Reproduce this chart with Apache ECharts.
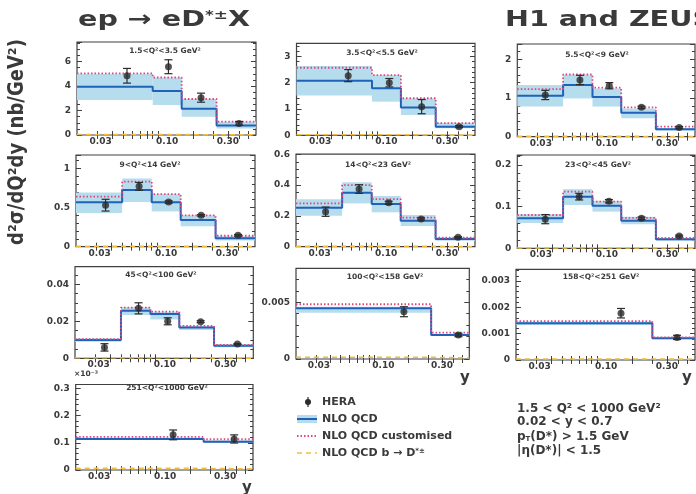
<!DOCTYPE html>
<html>
<head>
<meta charset="utf-8">
<title>ep → eD*±X</title>
<script src="https://cdn.jsdelivr.net/npm/echarts@6.0.0/dist/echarts.min.js"></script>
<style>
  html, body { margin: 0; padding: 0; background: #fff; }
  #chart { width: 696px; height: 494px; }
</style>
</head>
<body>
<div id="chart"></div>
<script>
// one panel per Q2 bin
const q2Bins = [
  '1.5<Q²<3.5 GeV²', '3.5<Q²<5.5 GeV²', '5.5<Q²<9 GeV²',
  '9<Q²<14 GeV²', '14<Q²<23 GeV²', '23<Q²<45 GeV²',
  '45<Q²<100 GeV²', '100<Q²<158 GeV²', '158<Q²<251 GeV²',
  '251<Q²<1000 GeV²'
]

// y bin edges of each panel
const yEdges = [
  [0.02, 0.09, 0.16, 0.32, 0.7],
  [0.02, 0.09, 0.16, 0.32, 0.7],
  [0.02, 0.05, 0.09, 0.16, 0.32, 0.7],
  [0.02, 0.05, 0.09, 0.16, 0.32, 0.7],
  [0.02, 0.05, 0.09, 0.16, 0.32, 0.7],
  [0.02, 0.05, 0.09, 0.16, 0.32, 0.7],
  [0.02, 0.05, 0.09, 0.16, 0.32, 0.7],
  [0.02, 0.32, 0.7],
  [0.02, 0.30, 0.7],
  [0.02, 0.26, 0.7]
]

// NLO QCD (last panel in units of 1e-3 nb/GeV2)
const nloQcd = [
  [3.95, 3.6, 2.15, 0.77],
  [2.08, 1.79, 1.06, 0.33],
  [1.06, 1.34, 1.03, 0.62, 0.19],
  [0.566, 0.723, 0.566, 0.34, 0.107],
  [0.253, 0.35, 0.277, 0.169, 0.05],
  [0.072, 0.124, 0.102, 0.066, 0.0216],
  [0.0099, 0.0257, 0.024, 0.0166, 0.0068],
  [0.00447, 0.00212],
  [0.0014, 0.00083],
  [0.114, 0.104]
]
const nloLow = [
  [2.86, 2.45, 1.5, 0.54],
  [1.51, 1.28, 0.77, 0.27],
  [0.78, 0.99, 0.78, 0.48, 0.16],
  [0.43, 0.57, 0.45, 0.26, 0.08],
  [0.2, 0.281, 0.223, 0.134, 0.039],
  [0.061, 0.104, 0.088, 0.058, 0.018],
  [0.009, 0.0234, 0.021, 0.0153, 0.006],
  [0.00409, 0.00202],
  [0.00133, 0.00079],
  [0.110, 0.100]
]
const nloHigh = [
  [5.0, 4.7, 2.94, 1.09],
  [2.64, 2.29, 1.41, 0.48],
  [1.34, 1.61, 1.25, 0.73, 0.22],
  [0.69, 0.87, 0.67, 0.40, 0.14],
  [0.307, 0.418, 0.329, 0.206, 0.061],
  [0.082, 0.142, 0.114, 0.076, 0.025],
  [0.0108, 0.0276, 0.0252, 0.0176, 0.0076],
  [0.00461, 0.00222],
  [0.00146, 0.00088],
  [0.119, 0.108]
]
// NLO QCD customised
const nloCustom = [
  [5.03, 4.7, 2.94, 1.09],
  [2.57, 2.29, 1.41, 0.46],
  [1.23, 1.61, 1.27, 0.76, 0.26],
  [0.64, 0.83, 0.67, 0.40, 0.14],
  [0.281, 0.40, 0.309, 0.188, 0.058],
  [0.080, 0.136, 0.112, 0.073, 0.025],
  [0.0104, 0.0274, 0.0252, 0.0175, 0.0072],
  [0.00483, 0.00232],
  [0.00148, 0.00086],
  [0.122, 0.113]
]
// NLO QCD b -> D*
const nloBeauty = [
  [0.04, 0.03, 0.02, 0.01],
  [0.02, 0.02, 0.01, 0.005],
  [0.01, 0.01, 0.01, 0.005, 0.002],
  [0.005, 0.006, 0.005, 0.003, 0.001],
  [0.002, 0.003, 0.003, 0.002, 0.001],
  [0.001, 0.0012, 0.001, 0.0008, 0.0004],
  [0.0003, 0.0003, 0.0003, 0.0002, 0.0001],
  [0.00015, 0.0001],
  [0.00004, 0.00003],
  [0.006, 0.004]
]

// HERA data: mean y, cross section, error
const heraY = [
  [0.054, 0.123, 0.235, 0.50],
  [0.056, 0.127, 0.242, 0.51],
  [0.035, 0.070, 0.126, 0.24, 0.51],
  [0.036, 0.070, 0.126, 0.24, 0.50],
  [0.036, 0.070, 0.126, 0.24, 0.50],
  [0.035, 0.069, 0.125, 0.24, 0.51],
  [0.036, 0.071, 0.127, 0.245, 0.51],
  [0.183, 0.56],
  [0.161, 0.49],
  [0.141, 0.48]
]
const heraXsec = [
  [4.84, 5.58, 3.05, 0.95],
  [2.27, 2.0, 1.09, 0.33],
  [1.08, 1.47, 1.32, 0.76, 0.24],
  [0.53, 0.77, 0.57, 0.40, 0.145],
  [0.227, 0.374, 0.285, 0.18, 0.061],
  [0.070, 0.124, 0.113, 0.072, 0.0295],
  [0.0059, 0.027, 0.020, 0.0198, 0.0077],
  [0.00417, 0.00212],
  [0.00178, 0.00086],
  [0.129, 0.114]
]
const heraErr = [
  [0.6, 0.57, 0.37, 0.15],
  [0.23, 0.16, 0.27, 0.04],
  [0.12, 0.12, 0.08, 0.03, 0.02],
  [0.075, 0.05, 0.015, 0.01, 0.01],
  [0.03, 0.028, 0.01, 0.007, 0.004],
  [0.011, 0.008, 0.004, 0.003, 0.002],
  [0.002, 0.003, 0.0019, 0.0005, 0.0003],
  [0.00044, 0.00015],
  [0.00018, 0.00008],
  [0.018, 0.015]
]

// axes
const yMax = [7.6, 3.5, 2.4, 1.17, 0.6, 0.224, 0.0495, 0.008, 0.00345, 0.314]
const yStep = [2, 1, 1, 0.5, 0.2, 0.1, 0.02, 0.005, 0.001, 0.1]
const yMinor = [4, 5, 5, 5, 4, 5, 4, 5, 5, 5]
const xMin = 0.02
const xMax = 0.7
const xTickLabels = ['0.03', '0.10', '0.30']
const xTickLabelAt = [0.032, 0.12, 0.40] // where the labels sit in the picture
const xTicks = [0.03, 0.04, 0.05, 0.06, 0.07, 0.08, 0.09, 0.1, 0.2, 0.3, 0.4, 0.5, 0.6]

// layout: [left, top, width, height] of each frame
const panelBox = [
  [77, 42, 179, 93], [296.5, 43.3, 178.5, 92], [517.3, 44, 177.7, 92.7],
  [76, 155, 179, 91.7], [296, 154.2, 179, 92.5], [517.3, 155, 177.7, 93.3],
  [75, 266.7, 178.3, 91.6], [296, 268.3, 173.3, 90.7], [516, 269.3, 179, 90.7],
  [75.7, 384.5, 177.3, 85.5]
]
const titlePos = [
  [165, 51], [382, 53], [597, 55], [150, 165], [378, 165], [598, 165],
  [161, 275], [385, 277], [601, 277], [167, 388]
]

const FONT = '"DejaVu Sans", "Liberation Sans", sans-serif'
const INK = '#3a3a3a'
const BLUE = '#1f62b8'
const BAND = '#b6ddee'
const RED = '#e2457c'
const YELLOW = '#f2be3c'

const L = Math.log10
const chart = echarts.init(document.getElementById('chart'))

const grids = []
const xAxes = []
const yAxes = []
const series = []

const hist = (edges, vals) =>
  vals.map((v, k) => [L(edges[k]), v]).concat([[L(edges[edges.length - 1]), vals[vals.length - 1]]])

const stepLine = (i, data, color, width, type, z) => ({
  type: 'line', xAxisIndex: 2 * i, yAxisIndex: 2 * i, data, step: 'end',
  showSymbol: false, silent: true, z,
  lineStyle: { color, width, type }
})

panelBox.forEach((b, i) => {
  grids.push({
    left: b[0], top: b[1], width: b[2], height: b[3],
    show: true, borderColor: '#404040', borderWidth: 1.2,
    outerBoundsMode: 'none'
  })

  const xBase = {
    gridIndex: i, type: 'value', min: L(xMin), max: L(xMax),
    splitLine: { show: false }, axisLine: { show: false },
    axisTick: { inside: true, length: 4, customValues: xTicks.map(L), lineStyle: { color: '#404040' } }
  }
  xAxes.push({
    ...xBase, position: 'bottom',
    axisLabel: {
      customValues: xTickLabelAt.map(L), margin: 2,
      fontFamily: FONT, fontWeight: 'bold', fontSize: 9, color: INK,
      formatter: v => {
        const k = xTickLabelAt.findIndex(p => Math.abs(L(p) - v) < 1e-6)
        return k >= 0 ? xTickLabels[k] : ''
      }
    }
  })
  xAxes.push({ ...xBase, position: 'top', axisLabel: { show: false } })

  const yBase = {
    gridIndex: i, type: 'value', min: 0, max: yMax[i], interval: yStep[i],
    splitLine: { show: false }, axisLine: { show: false },
    axisTick: { inside: true, length: 5, lineStyle: { color: '#404040' } },
    minorTick: { show: true, splitNumber: yMinor[i], length: 3, lineStyle: { color: '#404040' } }
  }
  yAxes.push({
    ...yBase, position: 'left',
    axisLabel: {
      margin: 6, fontFamily: FONT, fontWeight: 'bold', fontSize: 9, color: INK,
      showMaxLabel: i === 4
    }
  })
  yAxes.push({ ...yBase, position: 'right', axisLabel: { show: false } })

  const edges = yEdges[i]

  // NLO uncertainty band
  series.push({
    type: 'custom', xAxisIndex: 2 * i, yAxisIndex: 2 * i, silent: true, z: 1,
    encode: { x: [0, 1], y: [2, 3] },
    data: nloQcd[i].map((_, k) => [L(edges[k]), L(edges[k + 1]), nloLow[i][k], nloHigh[i][k]]),
    renderItem: (params, api) => {
      const p1 = api.coord([api.value(0), api.value(3)])
      const p2 = api.coord([api.value(1), api.value(2)])
      return {
        type: 'rect',
        shape: { x: p1[0], y: p1[1], width: p2[0] - p1[0], height: p2[1] - p1[1] },
        style: { fill: BAND }
      }
    }
  })
  series.push(stepLine(i, hist(edges, nloBeauty[i]), YELLOW, 1.6, [5, 4], 2))
  series.push(stepLine(i, hist(edges, nloQcd[i]), BLUE, 2, 'solid', 3))
  series.push(stepLine(i, hist(edges, nloCustom[i]), RED, 1.8, [1.5, 2], 4))

  // HERA error bars
  series.push({
    type: 'custom', xAxisIndex: 2 * i, yAxisIndex: 2 * i, silent: true, z: 5,
    encode: { x: 0, y: [1, 2] },
    data: heraY[i].map((y, k) => [L(y), heraXsec[i][k] - heraErr[i][k], heraXsec[i][k] + heraErr[i][k]]),
    renderItem: (params, api) => {
      const top = api.coord([api.value(0), api.value(2)])
      const bot = api.coord([api.value(0), api.value(1)])
      const st = { stroke: '#2b2b2b', lineWidth: 1.2 }
      return {
        type: 'group',
        children: [
          { type: 'line', shape: { x1: top[0], y1: top[1], x2: bot[0], y2: bot[1] }, style: st },
          { type: 'line', shape: { x1: top[0] - 4, y1: top[1], x2: top[0] + 4, y2: top[1] }, style: st },
          { type: 'line', shape: { x1: bot[0] - 4, y1: bot[1], x2: bot[0] + 4, y2: bot[1] }, style: st }
        ]
      }
    }
  })
  series.push({
    type: 'scatter', xAxisIndex: 2 * i, yAxisIndex: 2 * i, silent: true, z: 6,
    symbol: 'circle', symbolSize: 7,
    itemStyle: { color: '#2b2b2b' },
    data: heraY[i].map((y, k) => [L(y), heraXsec[i][k]])
  })
})

const txt = (x, y, text, size, extra) => ({
  type: 'text', x, y, silent: true,
  style: Object.assign({
    text, fontFamily: FONT, fontWeight: 'bold', fontSize: size, fill: INK,
    textAlign: 'left', textVerticalAlign: 'middle', verticalAlign: 'middle'
  }, extra || {})
})

const graphics = []
q2Bins.forEach((t, i) => {
  graphics.push(txt(titlePos[i][0], titlePos[i][1], t, 7.5, { textAlign: 'center' }))
})

// titles
graphics.push(Object.assign(txt(78, 20, 'ep → eD{s|*±}X', 22, {
  rich: { s: { fontFamily: FONT, fontWeight: 'bold', fontSize: 13, verticalAlign: 'top', fill: INK } }
}), { scaleX: 1.3 }))
graphics.push(Object.assign(txt(505, 20, 'H1 and ZEUS', 22), { scaleX: 1.3 }))

// y axis title
graphics.push(Object.assign(txt(18, 142, 'd²σ/dQ²dy (nb/GeV²)', 18, { textAlign: 'center' }), {
  rotation: Math.PI / 2, scaleY: 1.15
}))

// axis names and multiplier
graphics.push(txt(465, 378, 'y', 15, { textAlign: 'center' }))
graphics.push(txt(687, 378, 'y', 15, { textAlign: 'center' }))
graphics.push(txt(247, 488, 'y', 15, { textAlign: 'center' }))
graphics.push(txt(74, 374, '×10⁻³', 7.5))

// legend
graphics.push({ type: 'line', silent: true, shape: { x1: 308, y1: 397, x2: 308, y2: 407 }, style: { stroke: '#2b2b2b', lineWidth: 1.2 } })
graphics.push({ type: 'circle', silent: true, shape: { cx: 308, cy: 402, r: 3 }, style: { fill: '#2b2b2b' } })
graphics.push({ type: 'rect', silent: true, shape: { x: 297, y: 415, width: 20, height: 8 }, style: { fill: BAND } })
graphics.push({ type: 'line', silent: true, shape: { x1: 297, y1: 419, x2: 317, y2: 419 }, style: { stroke: BLUE, lineWidth: 2 } })
graphics.push({ type: 'line', silent: true, shape: { x1: 297, y1: 436, x2: 317, y2: 436 }, style: { stroke: RED, lineWidth: 1.8, lineDash: [1.5, 2] } })
graphics.push({ type: 'line', silent: true, shape: { x1: 297, y1: 453, x2: 317, y2: 453 }, style: { stroke: YELLOW, lineWidth: 1.6, lineDash: [5, 4] } })
graphics.push(txt(322, 402, 'HERA', 11))
graphics.push(txt(322, 419, 'NLO QCD', 11))
graphics.push(txt(322, 436, 'NLO QCD customised', 11))
graphics.push(txt(322, 453, 'NLO QCD b → D{s|*±}', 11, {
  rich: { s: { fontFamily: FONT, fontWeight: 'bold', fontSize: 7, verticalAlign: 'top', fill: INK } }
}))

// phase space
graphics.push(txt(517, 409, '1.5 < Q² < 1000 GeV²', 12))
graphics.push(txt(517, 422, '0.02 < y < 0.7', 12))
graphics.push(txt(517, 437, 'p{t|T}(D*) > 1.5 GeV', 12, {
  rich: { t: { fontFamily: FONT, fontWeight: 'bold', fontSize: 7, verticalAlign: 'bottom', fill: INK } }
}))
graphics.push(txt(517, 451, '|η(D*)| < 1.5', 12))

chart.setOption({
  backgroundColor: '#fff',
  animation: false,
  grid: grids,
  xAxis: xAxes,
  yAxis: yAxes,
  series,
  graphic: { elements: graphics }
})
</script>
</body>
</html>
